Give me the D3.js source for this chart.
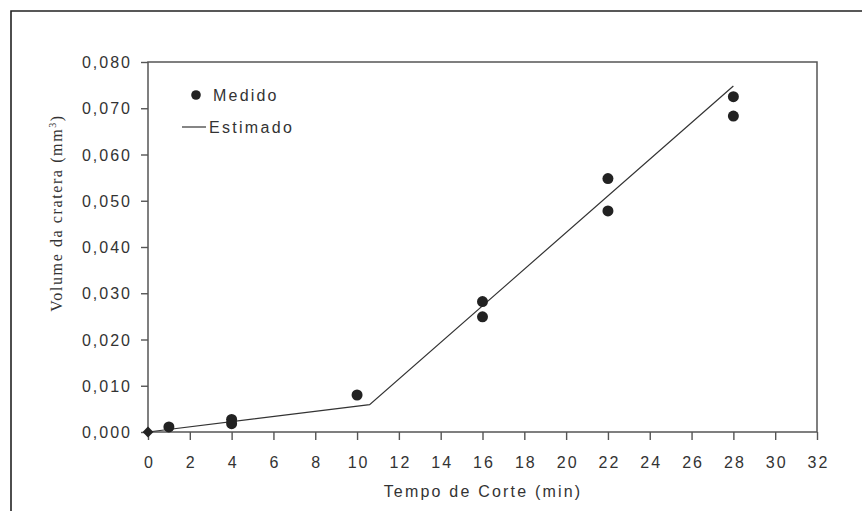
<!DOCTYPE html>
<html><head><meta charset="utf-8">
<script src="https://cdn.jsdelivr.net/npm/d3@7"></script>
<style>body{margin:0;background:#fff}svg{display:block}</style>
</head><body>
<svg id="c" width="862" height="511"></svg>
<script>
const measuredX = [0, 1, 4, 4, 10, 16, 16, 22, 22, 28, 28];
const measuredY = [0, 0.0011, 0.0027, 0.0018, 0.0080, 0.0282, 0.0249, 0.0548, 0.0478, 0.0725, 0.0683];
const estimatedX = [0, 10.6, 28];
const estimatedY = [0, 0.0059, 0.0748];
const xTicks = [0,2,4,6,8,10,12,14,16,18,20,22,24,26,28,30,32];
const yTicks = [0,0.01,0.02,0.03,0.04,0.05,0.06,0.07,0.08];
const xTitle = "Tempo de Corte (min)";
const yTitle = "Volume da cratera (mm";
const legendLabels = ["Medido", "Estimado"];

const svg = d3.select("#c");
const L = 148, R = 817, T = 62, B = 432;
const x = d3.scaleLinear().domain([0, 32]).range([L, R]);
const y = d3.scaleLinear().domain([0, 0.08]).range([B, T]);
const fmt = v => d3.format(".3f")(v).replace(".", ",");
const SANS = "Liberation Sans, Arial, sans-serif";

// outer frame
svg.append("path").attr("d", `M11,520 V11 H870`).attr("fill","none").attr("stroke","#222").attr("stroke-width",1.6);

// plot box
svg.append("rect").attr("x", L).attr("y", T).attr("width", R-L).attr("height", B-T)
  .attr("fill","none").attr("stroke","#555").attr("stroke-width",1.5);

const xa = svg.append("g").attr("transform", `translate(0,${B})`)
  .call(d3.axisBottom(x).tickValues(xTicks).tickSize(8).tickPadding(17).tickFormat(d3.format("d")));
const ya = svg.append("g").attr("transform", `translate(${L},0)`)
  .call(d3.axisLeft(y).tickValues(yTicks).tickSize(7).tickPadding(9).tickFormat(fmt));
[xa, ya].forEach(a => {
  a.select(".domain").remove();
  a.selectAll("line").attr("stroke","#555").attr("stroke-width",1.4);
  a.selectAll("text").attr("font-family",SANS).attr("font-size",16).attr("fill","#333").attr("letter-spacing",2);
});
ya.selectAll("text").attr("dy","0.35em");
xa.selectAll("text").attr("dx",1);

// estimated line
const line = d3.line().x((d,i)=>x(estimatedX[i])).y((d,i)=>y(estimatedY[i]));
svg.append("path").datum(estimatedX).attr("d", line).attr("fill","none").attr("stroke","#333").attr("stroke-width",1.2);

// measured points
svg.append("g").selectAll("path").data(measuredX).join("path")
  .attr("transform",(d,i)=>`translate(${x(d)},${y(measuredY[i])})`)
  .attr("d",(d,i)=> i===0 ? d3.symbol(d3.symbolDiamond2, 75)() : d3.symbol(d3.symbolCircle, 95)())
  .attr("fill","#222");

// legend
svg.append("circle").attr("cx",196).attr("cy",95).attr("r",4.8).attr("fill","#222");
svg.append("text").attr("x",213).attr("y",101).text(legendLabels[0])
  .attr("font-family",SANS).attr("font-size",16).attr("fill","#333").attr("letter-spacing",2.2);
svg.append("line").attr("x1",182).attr("x2",206).attr("y1",127).attr("y2",127).attr("stroke","#333").attr("stroke-width",1.2);
svg.append("text").attr("x",209).attr("y",133).text(legendLabels[1])
  .attr("font-family",SANS).attr("font-size",16).attr("fill","#333").attr("letter-spacing",2.3);

// axis titles
svg.append("text").attr("x",483).attr("y",497).attr("text-anchor","middle").text(xTitle)
  .attr("font-family",SANS).attr("font-size",16).attr("fill","#333").attr("letter-spacing",2.2);
const yt = svg.append("text").attr("transform","translate(62,213) rotate(-90)").attr("text-anchor","middle")
  .attr("font-family","Liberation Serif, Times New Roman, serif").attr("font-size",16).attr("fill","#333").attr("letter-spacing",1.6);
yt.append("tspan").text(yTitle);
yt.append("tspan").attr("dy",-6).attr("font-size",10).text("3");
yt.append("tspan").attr("dy",6).text(")");
</script>
</body></html>
